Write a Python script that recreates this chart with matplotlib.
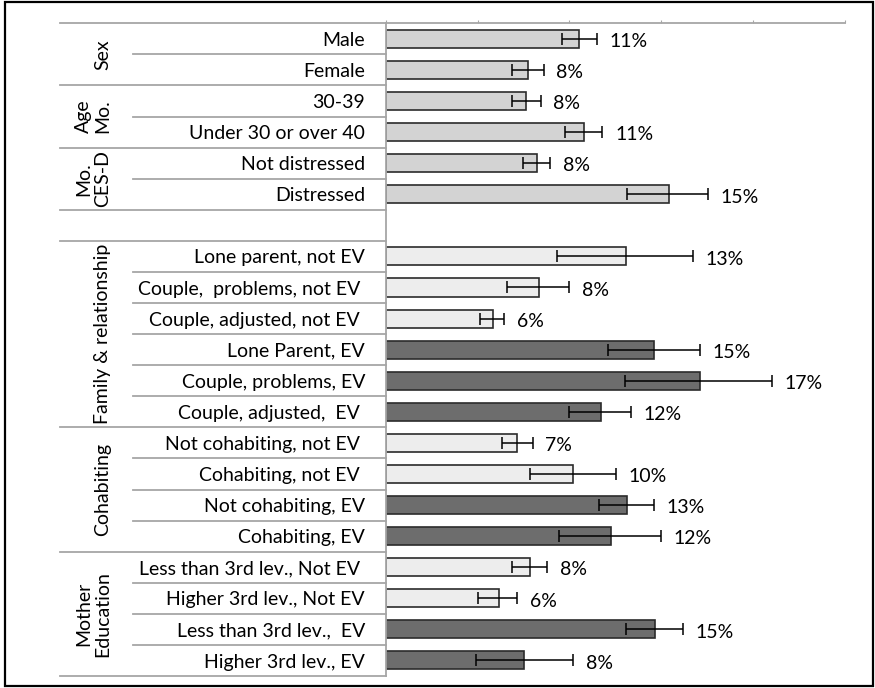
import matplotlib
matplotlib.use("Agg")
import matplotlib.pyplot as plt
from matplotlib.transforms import blended_transform_factory
from matplotlib.patches import Rectangle

plt.rcParams['font.family'] = ['Lato', 'DejaVu Sans']

# rows from top to bottom (empty string = blank spacer row)
row_labels = [
    "Male", "Female",
    "30-39", "Under 30 or over 40",
    "Not distressed", "Distressed",
    "",
    "Lone parent, not EV", "Couple,  problems, not EV ", "Couple, adjusted, not EV ",
    "Lone Parent, EV", "Couple, problems, EV", "Couple, adjusted,  EV ",
    "Not cohabiting, not EV ", "Cohabiting, not EV ", "Not cohabiting, EV", "Cohabiting, EV",
    "Less than 3rd lev., Not EV ", "Higher 3rd lev., Not EV", "Less than 3rd lev.,  EV",
    "Higher 3rd lev., EV",
]
# prevalence (%) and 95% CI bounds
values = [10.5, 7.75, 7.65, 10.8, 8.25, 15.4,
          None,
          13.1, 8.35, 5.85, 14.6, 17.1, 11.7,
          7.15, 10.2, 13.15, 12.25,
          7.85, 6.15, 14.65, 7.55]
ci_low = [9.6, 6.9, 6.9, 9.75, 7.5, 13.15,
          None,
          9.35, 6.6, 5.15, 12.1, 13.05, 10.0,
          6.35, 7.85, 11.6, 9.45,
          6.9, 5.05, 13.1, 4.9]
ci_high = [11.5, 8.6, 8.45, 11.8, 8.95, 17.55,
           None,
           16.7, 10.0, 6.45, 17.1, 21.05, 13.35,
           8.0, 12.55, 14.6, 15.0,
           8.8, 7.15, 16.2, 10.2]
value_labels = ["11%", "8%", "8%", "11%", "8%", "15%",
                "",
                "13%", "8%", "6%", "15%", "17%", "12%",
                "7%", "10%", "13%", "12%",
                "8%", "6%", "15%", "8%"]
# 0 = parental characteristic, 1 = not EV, 2 = EV
bar_type = [0, 0, 0, 0, 0, 0, -1,
            1, 1, 1, 2, 2, 2,
            1, 1, 2, 2,
            1, 1, 2, 2]
groups = [("Sex", 0, 1), ("Age\nMo.", 2, 3), ("Mo.\nCES-D", 4, 5),
          ("Family & relationship", 7, 12), ("Cohabiting", 13, 16),
          ("Mother\nEducation", 17, 20)]

colors = {0: "#d3d3d3", 1: "#ededed", 2: "#6d6d6d"}
W, H = 875, 688
fig = plt.figure(figsize=(W / 100, H / 100), dpi=100)

# bar area in pixels
x0, x1, ytop, ybot = 385.7, 845, 23.3, 676
ax = fig.add_axes([x0 / W, 1 - ybot / H, (x1 - x0) / W, (ybot - ytop) / H])

n = len(row_labels)
for i in range(n):
    if values[i] is None:
        continue
    ax.barh(i, values[i], height=0.58, color=colors[bar_type[i]],
            edgecolor="#2b2b2b", linewidth=1.2, zorder=2)
    ax.errorbar(values[i], i, xerr=[[values[i] - ci_low[i]], [ci_high[i] - values[i]]],
                fmt="none", ecolor="black", elinewidth=1.1, capsize=4.3,
                capthick=1.1, zorder=3)
    ax.annotate(value_labels[i], (ci_high[i], i), xytext=(9, -2),
                textcoords="offset points", ha="left", va="center", fontsize=14)

ax.set_xlim(0, 25)
ax.set_ylim(n - 0.5, -0.5)
ax.set_xticks([0, 5, 10, 15, 20, 25])
ax.set_yticks([])
ax.xaxis.tick_top()
ax.tick_params(axis="x", direction="out", length=2, color="#a6a6a6", labeltop=False)
for s in ["right", "bottom"]:
    ax.spines[s].set_visible(False)
for s in ["top", "left"]:
    ax.spines[s].set_color("#a6a6a6")
    ax.spines[s].set_linewidth(1.3)

# table on the left
tr = blended_transform_factory(fig.transFigure, ax.transData)
group_edges = {-0.5, 1.5, 3.5, 5.5, 6.5, 12.5, 16.5, 20.5}
for k in range(n + 1):
    y = k - 0.5
    xs = 60 if y in group_edges else 133
    ax.plot([xs / W, x0 / W], [y, y], color="#a6a6a6", lw=1.3,
            transform=tr, clip_on=False)

for i, lab in enumerate(row_labels):
    if lab:
        ax.text(365 / W, i + 0.05, lab, transform=tr, ha="right", va="center",
                fontsize=14)

for name, a, b in groups:
    ax.text(111 / W, (a + b) / 2, name, transform=tr, rotation=90,
            ha="right", va="center", fontsize=14, linespacing=1.15,
            multialignment="center")

# outer frame
fig.patches.append(Rectangle((5 / W, 1 - 686 / H), (873 - 5) / W, (686 - 2) / H,
                             transform=fig.transFigure, fill=False,
                             edgecolor="black", linewidth=1.6))

fig.savefig("out.png", dpi=100)
